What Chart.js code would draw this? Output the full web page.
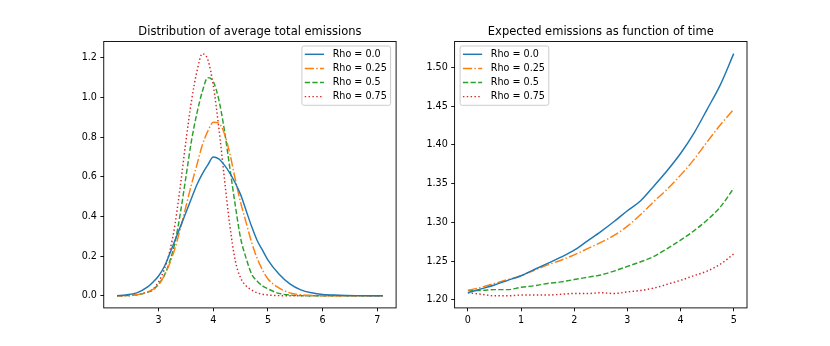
<!DOCTYPE html>
<html>
<head>
<meta charset="utf-8">
<script src="https://cdn.jsdelivr.net/npm/chart.js@4.4.1/dist/chart.umd.min.js"></script>
<style>
  html, body { margin: 0; padding: 0; background: #fff; }
  #wrap { position: relative; width: 830px; height: 346px; }
  canvas { position: absolute; top: 0; }
</style>
</head>
<body>
<div id="wrap">
  <canvas id="dist-chart" width="415" height="346" style="left:0"></canvas>
  <canvas id="time-chart" width="415" height="346" style="left:415px"></canvas>
</div>
<script>
// ---------- DATA ----------
const rhoLabels = ["Rho = 0.0", "Rho = 0.25", "Rho = 0.5", "Rho = 0.75"];

// left panel: distribution of average total emissions
const distX = [2.24, 2.4, 2.6, 2.8, 2.9, 3.0, 3.1, 3.2, 3.3, 3.4, 3.5, 3.6, 3.7, 3.8, 3.9, 4.0, 4.1,
  4.2, 4.3, 4.4, 4.5, 4.6, 4.7, 4.8, 4.9, 5.0, 5.2, 5.4, 5.6, 5.8, 6.0, 6.3, 6.6, 7.1];
const distRho00 = [0.001, 0.004, 0.015, 0.045, 0.07, 0.10, 0.145, 0.21, 0.28, 0.35, 0.42, 0.49, 0.56,
  0.615, 0.66, 0.70, 0.69, 0.66, 0.62, 0.57, 0.51, 0.43, 0.35, 0.28, 0.23, 0.18, 0.11, 0.06, 0.03,
  0.015, 0.007, 0.003, 0.001, 0.0];
const distRho25 = [0, 0.001, 0.005, 0.02, 0.033, 0.055, 0.10, 0.16, 0.24, 0.34, 0.45, 0.56, 0.66,
  0.76, 0.83, 0.875, 0.87, 0.82, 0.72, 0.59, 0.47, 0.37, 0.27, 0.19, 0.13, 0.085, 0.04, 0.015, 0.005,
  0.002, 0.001, 0, 0, 0];
const distRho50 = [0, 0.001, 0.005, 0.018, 0.03, 0.06, 0.10, 0.17, 0.27, 0.42, 0.60, 0.78, 0.92,
  1.03, 1.10, 1.08, 0.99, 0.84, 0.65, 0.46, 0.29, 0.19, 0.11, 0.075, 0.05, 0.035, 0.012, 0.004, 0.001,
  0, 0, 0, 0, 0];
const distRho75 = [0, 0.001, 0.005, 0.02, 0.035, 0.07, 0.13, 0.22, 0.36, 0.56, 0.78, 0.98, 1.13,
  1.22, 1.19, 1.06, 0.85, 0.60, 0.36, 0.18, 0.09, 0.05, 0.03, 0.015, 0.008, 0.004, 0.001, 0, 0,
  0, 0, 0, 0, 0];
const distXTicks = [3, 4, 5, 6, 7];
const distYTicks = [0, 0.2, 0.4, 0.6, 0.8, 1.0, 1.2];

// right panel: expected emissions over time
const timeX = [0, 0.25, 0.5, 0.75, 1, 1.25, 1.5, 1.75, 2, 2.25, 2.5, 2.75, 3, 3.25, 3.5, 3.75, 4,
  4.25, 4.5, 4.75, 5];
const timeRho00 = [1.209, 1.214, 1.219, 1.225, 1.231, 1.239, 1.247, 1.255, 1.264, 1.276, 1.288,
  1.301, 1.315, 1.328, 1.347, 1.367, 1.389, 1.415, 1.446, 1.478, 1.518];
const timeRho25 = [1.212, 1.216, 1.221, 1.226, 1.231, 1.238, 1.245, 1.251, 1.258, 1.266, 1.274,
  1.283, 1.295, 1.310, 1.327, 1.343, 1.361, 1.381, 1.404, 1.426, 1.446];
const timeRho50 = [1.212, 1.212, 1.213, 1.213, 1.216, 1.218, 1.221, 1.223, 1.226, 1.229, 1.232,
  1.237, 1.243, 1.249, 1.256, 1.266, 1.277, 1.289, 1.303, 1.320, 1.344];
const timeRho75 = [1.209, 1.207, 1.205, 1.205, 1.206, 1.206, 1.206, 1.207, 1.208, 1.208, 1.209,
  1.208, 1.210, 1.212, 1.215, 1.220, 1.225, 1.231, 1.237, 1.246, 1.259];
const timeXTicks = [0, 1, 2, 3, 4, 5];
const timeYTicks = [1.20, 1.25, 1.30, 1.35, 1.40, 1.45, 1.50];

// ---------- STYLE ----------
const colors = ["#1f77b4", "#ff7f0e", "#2ca02c", "#d62728"];
const dashes = [[], [9.2, 2.3, 1.44, 2.3], [5.3, 2.3], [1.44, 2.4]];
const FONT = "'DejaVu Sans', sans-serif";

Chart.defaults.font.family = FONT;
Chart.defaults.font.size = 9.6;
Chart.defaults.color = "#000";

// matplotlib-ish frame around the plot area
const frame = {
  id: "frame",
  afterDatasetsDraw(chart) {
    const { ctx, chartArea: a } = chart;
    ctx.save();
    ctx.strokeStyle = "#000";
    ctx.lineWidth = 0.9;
    ctx.strokeRect(a.left, a.top, a.right - a.left, a.bottom - a.top);
    ctx.restore();
  }
};

// boxed legend inside the plot area
const boxLegend = {
  id: "boxLegend",
  afterDraw(chart, args, opts) {
    const { ctx, chartArea: a } = chart;
    const sets = chart.data.datasets;
    ctx.save();
    ctx.font = "9.6px " + FONT;
    const textW = Math.max(...sets.map(d => ctx.measureText(d.label).width));
    const pad = 3.84, handle = 19.2, gap = 7.7, rowH = 14.1;
    const w = pad + handle + gap + textW + pad;
    const h = 59.3;
    const x0 = opts.side === "right" ? a.right - 5.5 - w : a.left + 5.5;
    const y0 = a.top + 4.5;

    ctx.beginPath();
    if (ctx.roundRect) ctx.roundRect(x0, y0, w, h, 2); else ctx.rect(x0, y0, w, h);
    ctx.fillStyle = "rgba(255,255,255,0.8)";
    ctx.fill();
    ctx.strokeStyle = "#cccccc";
    ctx.lineWidth = 1;
    ctx.stroke();

    sets.forEach((d, i) => {
      const y = y0 + 8.3 + i * rowH;
      ctx.beginPath();
      ctx.setLineDash(d.borderDash || []);
      ctx.strokeStyle = d.borderColor;
      ctx.lineWidth = d.borderWidth;
      ctx.moveTo(x0 + pad - 1, y);
      ctx.lineTo(x0 + pad - 1 + handle, y);
      ctx.stroke();
      ctx.setLineDash([]);
      ctx.fillStyle = "#000";
      ctx.textBaseline = "middle";
      ctx.fillText(d.label, x0 + pad + handle + gap, y);
    });
    ctx.restore();
  }
};

function series(xs, ys, i) {
  return {
    label: rhoLabels[i],
    data: xs.map((x, k) => ({ x, y: ys[k] })),
    borderColor: colors[i],
    borderDash: dashes[i],
    borderWidth: 1.45,
    borderCapStyle: "butt",
    pointRadius: 0,
    fill: false,
    cubicInterpolationMode: "monotone"
  };
}

function axis(min, max, ticks, fmt, size) {
  return {
    type: "linear",
    min, max,
    afterBuildTicks: s => { s.ticks = ticks.map(v => ({ value: v })); },
    afterFit: s => { if (s.isHorizontal()) s.height = size; else s.width = size; },
    border: { display: false },
    grid: { drawOnChartArea: false, drawTicks: true, tickLength: 3.4, tickColor: "#000", tickWidth: 0.9 },
    ticks: { padding: 3.4, color: "#000", maxRotation: 0, callback: fmt }
  };
}

function makeChart(id, title, sets, xScale, yScale, padRight, legendSide) {
  return new Chart(document.getElementById(id), {
    type: "line",
    data: { datasets: sets },
    plugins: [frame, boxLegend],
    options: {
      responsive: false,
      animation: false,
      devicePixelRatio: 1,
      parsing: true,
      layout: { padding: { left: 0, right: padRight, top: 0, bottom: 0 } },
      plugins: {
        legend: { display: false },
        tooltip: { enabled: false },
        title: {
          display: true,
          fullSize: false,
          text: title,
          color: "#000",
          font: { family: FONT, size: 11.5, weight: "normal" },
          padding: { top: 24.8, bottom: 2.9 }
        },
        boxLegend: { side: legendSide }
      },
      scales: { x: xScale, y: yScale }
    }
  });
}

// ---------- DRAW ----------
const distSets = [distRho00, distRho25, distRho50, distRho75].map((ys, i) => series(distX, ys, i));
makeChart(
  "dist-chart",
  "Distribution of average total emissions",
  distSets,
  axis(1.997, 7.343, distXTicks, v => String(v), 38.1),
  axis(-0.061, 1.282, distYTicks, v => v.toFixed(1), 103.75),
  18.9,
  "right"
);

const timeSets = [timeRho00, timeRho25, timeRho50, timeRho75].map((ys, i) => series(timeX, ys, i));
makeChart(
  "time-chart",
  "Expected emissions as function of time",
  timeSets,
  axis(-0.25, 5.25, timeXTicks, v => String(v), 38.1),
  axis(1.1894, 1.5337, timeYTicks, v => v.toFixed(2), 39.6),
  83,
  "left"
);
</script>
</body>
</html>
